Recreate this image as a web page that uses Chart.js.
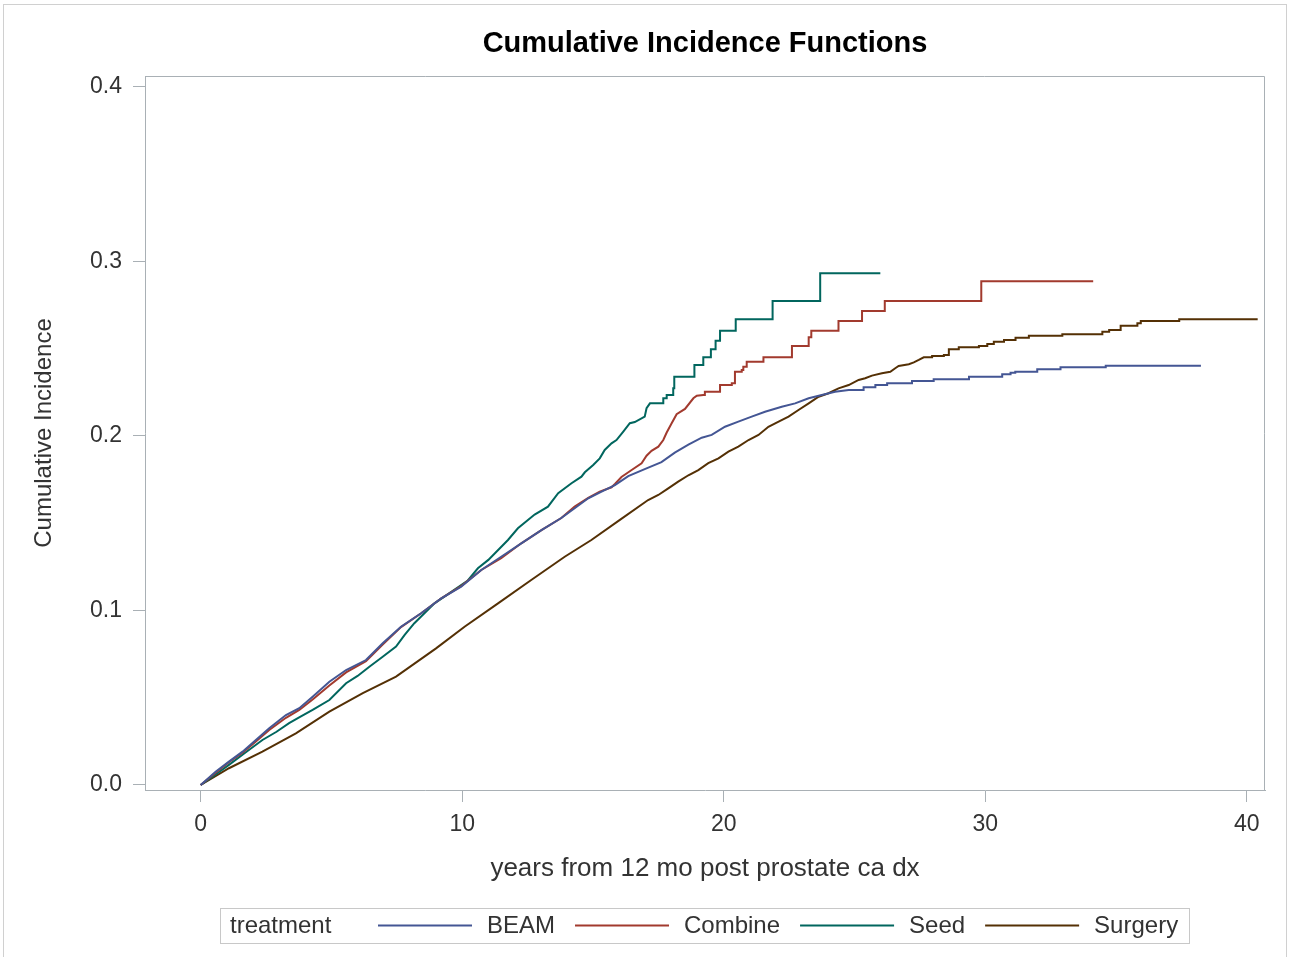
<!DOCTYPE html>
<html>
<head>
<meta charset="utf-8">
<title>Cumulative Incidence Functions</title>
<script src="https://cdn.jsdelivr.net/npm/chart.js@4.4.1/dist/chart.umd.min.js"></script>
<style>
  html, body { margin: 0; padding: 0; background: #fff; }
  canvas { display: block; }
</style>
</head>
<body>
<canvas id="cif" width="1290" height="957"></canvas>
<script>
// values: years vs cumulative incidence
var groups = ['BEAM', 'Combine', 'Seed', 'Surgery'];
var xTicks = [0, 10, 20, 30, 40];
var yTicks = [0, 0.1, 0.2, 0.3, 0.4];

// dense part of each curve (many tiny steps)
var beamT = [0, 0.57, 1.08, 1.60, 2.11, 2.62, 3.26, 3.77, 4.28, 4.92, 5.56, 6.32, 6.96, 7.66, 8.43, 9.20, 9.96, 10.73, 11.49, 12.26, 13.03, 13.79, 14.30, 14.82, 15.33, 15.84, 16.35, 16.98, 17.62, 18.13, 18.65, 19.16, 19.54, 20.05, 20.56, 21.07, 21.58, 22.22, 22.73, 23.25, 23.75, 24.26, 24.78];
var beamV = [0, 0.0076, 0.0134, 0.0191, 0.0258, 0.0325, 0.0401, 0.0440, 0.0506, 0.0592, 0.0659, 0.0716, 0.0812, 0.0907, 0.0984, 0.1070, 0.1136, 0.1232, 0.1308, 0.1385, 0.1461, 0.1530, 0.1586, 0.1643, 0.1681, 0.1719, 0.1770, 0.1810, 0.1850, 0.1905, 0.1950, 0.1990, 0.2006, 0.2053, 0.2082, 0.2111, 0.2139, 0.2168, 0.2187, 0.2216, 0.2235, 0.2254, 0.2264];
// sparse tail: event times and the level after each jump
var beamStepT = [25.35, 25.80, 26.25, 27.20, 28.03, 29.38, 30.65, 30.97, 31.15, 31.99, 32.88, 34.61];
var beamStepV = [0.2279, 0.2292, 0.2302, 0.2315, 0.2325, 0.2340, 0.2354, 0.2363, 0.2368, 0.2382, 0.2394, 0.2403];
var beamEnd = 38.25;

var combT = [0, 0.57, 1.08, 1.60, 2.11, 2.62, 3.26, 3.77, 4.28, 4.92, 5.56, 6.32, 6.96, 7.66, 8.43, 9.20, 9.96, 10.73, 11.49, 12.26, 13.03, 13.79, 14.30, 14.82, 15.26, 15.71, 15.84, 16.09, 16.48, 16.86, 17.05, 17.24, 17.50, 17.69, 17.82, 18.01, 18.20, 18.52, 18.84, 18.97, 19.22];
var combV = [0, 0.0070, 0.0130, 0.0185, 0.0250, 0.0315, 0.0385, 0.0430, 0.0490, 0.0570, 0.0645, 0.0710, 0.0805, 0.0905, 0.0984, 0.1070, 0.1140, 0.1232, 0.1300, 0.1385, 0.1461, 0.1530, 0.1595, 0.1645, 0.1681, 0.1706, 0.1725, 0.1765, 0.1805, 0.1844, 0.1887, 0.1915, 0.1939, 0.1977, 0.2020, 0.2073, 0.2125, 0.2155, 0.2216, 0.2231, 0.2235];
var combStepT = [19.28, 19.86, 20.31, 20.43, 20.69, 20.75, 20.88, 21.52, 22.61, 23.25, 23.35, 24.39, 25.29, 26.16, 29.85];
var combStepV = [0.2254, 0.2292, 0.2302, 0.2368, 0.2378, 0.2397, 0.2426, 0.2451, 0.2516, 0.2566, 0.2603, 0.2659, 0.2716, 0.2774, 0.2887];
var combEnd = 34.13;

var seedT = [0, 0.57, 1.08, 1.70, 2.36, 2.90, 3.38, 3.80, 4.28, 4.92, 5.56, 6.00, 6.45, 6.96, 7.47, 7.80, 8.17, 8.94, 9.71, 10.20, 10.60, 11.00, 11.75, 12.13, 12.77, 13.28, 13.67, 14.18, 14.56, 14.69, 15.01, 15.26, 15.45, 15.71, 15.90, 16.16, 16.41, 16.60, 16.98, 17.05, 17.18];
var seedV = [0, 0.0060, 0.0115, 0.0185, 0.0258, 0.0305, 0.0354, 0.0390, 0.0430, 0.0487, 0.0583, 0.0625, 0.0678, 0.0735, 0.0793, 0.0860, 0.0927, 0.1041, 0.1120, 0.1170, 0.1242, 0.1290, 0.1404, 0.1471, 0.1550, 0.1595, 0.1672, 0.1729, 0.1767, 0.1792, 0.1834, 0.1872, 0.1920, 0.1958, 0.1977, 0.2025, 0.2073, 0.2080, 0.2111, 0.2159, 0.2187];
var seedStepT = [17.69, 17.82, 18.07, 18.11, 18.88, 19.22, 19.51, 19.69, 19.86, 20.46, 21.87, 23.69];
var seedStepV = [0.2216, 0.2235, 0.2273, 0.2340, 0.2407, 0.2451, 0.2497, 0.2546, 0.2603, 0.2669, 0.2774, 0.2932];
var seedEnd = 25.99;

var surgT = [0, 1.08, 2.36, 3.64, 4.92, 6.20, 7.47, 9.00, 10.09, 11.37, 12.64, 13.92, 14.94, 16.03, 17.11, 17.50, 17.88, 18.26, 18.65, 19.03, 19.41, 19.80, 20.18, 20.56, 20.95, 21.33, 21.71, 22.10, 22.48, 22.86, 23.25, 23.63, 24.01, 24.39, 24.78, 25.16, 25.41, 25.67, 26.05, 26.37, 26.56, 26.69, 27.08, 27.27, 27.46, 27.65];
var surgV = [0, 0.0096, 0.0191, 0.0296, 0.0420, 0.0526, 0.0621, 0.0783, 0.0907, 0.1041, 0.1175, 0.1308, 0.1404, 0.1519, 0.1633, 0.1662, 0.1700, 0.1738, 0.1775, 0.1805, 0.1844, 0.1872, 0.1910, 0.1939, 0.1977, 0.2006, 0.2053, 0.2082, 0.2111, 0.2149, 0.2187, 0.2225, 0.2245, 0.2273, 0.2292, 0.2321, 0.2331, 0.2346, 0.2359, 0.2368, 0.2388, 0.2401, 0.2411, 0.2422, 0.2436, 0.2451];
var surgStepT = [27.97, 28.42, 28.61, 28.99, 29.76, 30.08, 30.33, 30.72, 31.16, 31.67, 32.95, 34.48, 34.74, 35.18, 35.82, 35.95, 37.42];
var surgStepV = [0.2458, 0.2464, 0.2497, 0.2508, 0.2516, 0.2527, 0.2540, 0.2550, 0.2563, 0.2575, 0.2583, 0.2598, 0.2607, 0.2632, 0.2646, 0.2659, 0.2669];
var surgEnd = 40.42;

var colors = ['#445694', '#A23A2E', '#01665E', '#543005'];
var axisGrey = '#a9b0b5';
var fontFam = "'Liberation Sans', Arial, sans-serif";
var chartTitle = 'Cumulative Incidence Functions';

// dense points joined directly, tail drawn as a step function
function buildCurve(t, v, stepT, stepV, end) {
    var pts = t.map(function (x, i) { return { x: x, y: v[i] }; });
    var last = v[v.length - 1];
    stepT.forEach(function (x, i) {
        pts.push({ x: x, y: last });
        pts.push({ x: x, y: stepV[i] });
        last = stepV[i];
    });
    pts.push({ x: end, y: last });
    return pts;
}

var curves = [
    buildCurve(beamT, beamV, beamStepT, beamStepV, beamEnd),
    buildCurve(combT, combV, combStepT, combStepV, combEnd),
    buildCurve(seedT, seedV, seedStepT, seedStepV, seedEnd),
    buildCurve(surgT, surgV, surgStepT, surgStepV, surgEnd)
];

var pageFrame = {
    id: 'pageFrame',
    beforeDraw: function (chart) {
        var ctx = chart.ctx;
        ctx.save();
        ctx.fillStyle = '#fff';
        ctx.fillRect(0, 0, chart.width, chart.height);
        ctx.strokeStyle = '#d0d0d0';
        ctx.lineWidth = 1;
        ctx.strokeRect(3.5, 4.5, 1283, 960);
        ctx.restore();
    },
    afterDraw: function (chart) {
        var ctx = chart.ctx, a = chart.chartArea;
        ctx.save();
        // title centred over the plot wall
        ctx.font = 'bold 29px ' + fontFam;
        ctx.fillStyle = '#000';
        ctx.textAlign = 'center';
        ctx.textBaseline = 'middle';
        ctx.fillText(chartTitle, (a.left + a.right) / 2, 44);

        // top and right sides of the plot wall
        ctx.strokeStyle = axisGrey;
        ctx.lineWidth = 1;
        ctx.beginPath();
        ctx.moveTo(Math.round(a.left) + 0.5, Math.round(a.top) + 0.5);
        ctx.lineTo(Math.round(a.right) - 0.5, Math.round(a.top) + 0.5);
        ctx.lineTo(Math.round(a.right) - 0.5, Math.round(a.bottom));
        ctx.stroke();

        // legend box with its "treatment" label
        var boxX = 220, boxY = 908, boxW = 969, boxH = 35;
        ctx.strokeStyle = '#c8c8c8';
        ctx.strokeRect(boxX + 0.5, boxY + 0.5, boxW, boxH);
        ctx.font = '24px ' + fontFam;
        ctx.fillStyle = '#333';
        ctx.textBaseline = 'middle';
        ctx.textAlign = 'left';
        var midY = boxY + boxH / 2 + 1;
        ctx.fillText('treatment', boxX + 10, midY);
        var x = 378;
        chart.data.datasets.forEach(function (ds) {
            ctx.strokeStyle = ds.borderColor;
            ctx.lineWidth = 2;
            ctx.beginPath();
            ctx.moveTo(x, midY - 1);
            ctx.lineTo(x + 94, midY - 1);
            ctx.stroke();
            ctx.fillText(ds.label, x + 109, midY);
            x += 109 + ctx.measureText(ds.label).width + 20;
        });
        ctx.restore();
    }
};

var ctx = document.getElementById('cif').getContext('2d');
var chart = new Chart(ctx, {
    type: 'line',
    data: {
        datasets: groups.map(function (g, i) {
            return {
                label: g,
                data: curves[i],
                borderColor: colors[i],
                backgroundColor: colors[i],
                borderWidth: 2,
                pointRadius: 0,
                fill: false,
                tension: 0
            };
        })
    },
    options: {
        responsive: false,
        animation: false,
        devicePixelRatio: 1,
        layout: { padding: { left: 0, right: 25, top: 76, bottom: 67 } },
        plugins: {
            legend: { display: false },
            tooltip: { enabled: false },
            title: { display: false }
        },
        scales: {
            x: {
                type: 'linear',
                min: -2.13,
                max: 40.70,
                afterBuildTicks: function (s) { s.ticks = xTicks.map(function (v) { return { value: v }; }); },
                afterFit: function (s) { s.height = 100; },
                grid: { drawOnChartArea: false, drawTicks: true, tickLength: 12, color: axisGrey },
                border: { color: axisGrey },
                ticks: { color: '#333', font: { family: fontFam, size: 23 }, padding: 9, maxRotation: 0 },
                title: {
                    display: true,
                    text: 'years from 12 mo post prostate ca dx',
                    color: '#333',
                    font: { family: fontFam, size: 26 },
                    padding: { top: 0, bottom: 5.4 }
                }
            },
            y: {
                min: -0.00287,
                max: 0.4063,
                afterBuildTicks: function (s) { s.ticks = yTicks.map(function (v) { return { value: v }; }); },
                afterFit: function (s) { s.width = 145; },
                grid: { drawOnChartArea: false, drawTicks: true, tickLength: 12, color: axisGrey },
                border: { color: axisGrey },
                ticks: {
                    color: '#333',
                    font: { family: fontFam, size: 23 },
                    padding: 11,
                    callback: function (v) { return v.toFixed(1); }
                },
                title: {
                    display: true,
                    text: 'Cumulative Incidence',
                    color: '#333',
                    font: { family: fontFam, size: 24 },
                    padding: { top: 30, bottom: 0 }
                }
            }
        }
    },
    plugins: [pageFrame]
});
</script>
</body>
</html>
